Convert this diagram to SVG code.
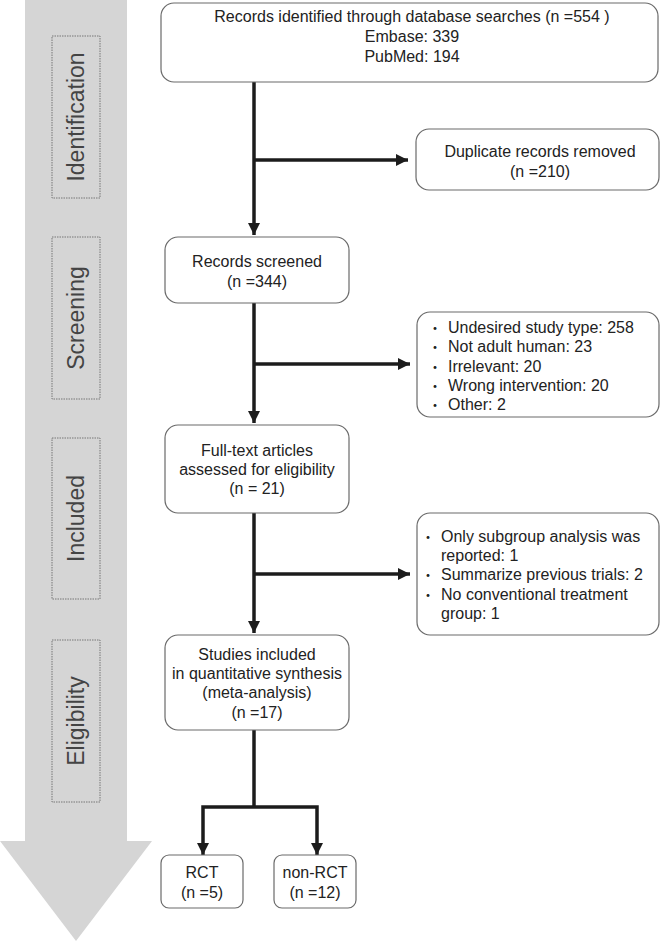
<svg xmlns="http://www.w3.org/2000/svg" width="666" height="941" viewBox="0 0 666 941">
<style>
.box{fill:#fff;stroke:#6a6a6a;stroke-width:1.2}
.lbl{fill:none;stroke:#777;stroke-width:1;stroke-dasharray:1.5 1}
.t{font-family:"Liberation Sans",Arial,sans-serif;font-size:16px;fill:#222;text-anchor:middle}
.tl{font-family:"Liberation Sans",Arial,sans-serif;font-size:16px;fill:#222}
.bu{font-family:"Noto Sans CJK JP",sans-serif;font-size:14px;fill:#222;text-anchor:middle}
.ph{font-family:"Liberation Sans",Arial,sans-serif;font-size:23px;fill:#444;text-anchor:middle}
.ln{fill:none;stroke:#1c1c1c;stroke-width:3.5}
</style>
<defs>
<marker id="ah" markerWidth="12" markerHeight="12" viewBox="0 0 12 12" refX="12" refY="6" orient="auto" markerUnits="userSpaceOnUse">
<path d="M0,0 L12,6 L0,12 Z" fill="#1c1c1c"/>
</marker>
</defs>
<g id="phase-arrow">
<path d="M25,0 H127 V841 H152 L76,941 L0,841 H25 Z" fill="#d5d5d5"/>
<rect class="lbl" x="52" y="36" width="48" height="162"/>
<text class="ph" transform="translate(84,117) rotate(-90)">Identification</text>
<rect class="lbl" x="52" y="237" width="48" height="162"/>
<text class="ph" transform="translate(84,318) rotate(-90)">Screening</text>
<rect class="lbl" x="52" y="438" width="48" height="161"/>
<text class="ph" transform="translate(84,518.5) rotate(-90)">Included</text>
<rect class="lbl" x="52" y="640" width="48" height="162"/>
<text class="ph" transform="translate(84,721) rotate(-90)">Eligibility</text>
</g>
<g id="connectors">
<path class="ln" d="M254,82 V235" marker-end="url(#ah)"/>
<path class="ln" d="M254,160 H408" marker-end="url(#ah)"/>
<path class="ln" d="M254,303 V423" marker-end="url(#ah)"/>
<path class="ln" d="M254,364 H410" marker-end="url(#ah)"/>
<path class="ln" d="M254,513 V633" marker-end="url(#ah)"/>
<path class="ln" d="M254,574 H410" marker-end="url(#ah)"/>
<path class="ln" d="M254,730 V807"/>
<path class="ln" d="M203,855 V807 H317 V855" stroke-linejoin="miter"/>
<path d="M197,843 L209,843 L203,855 Z" fill="#1c1c1c"/>
<path d="M311,843 L323,843 L317,855 Z" fill="#1c1c1c"/>
</g>
<g id="records-identified">
<rect class="box" x="161" y="3" width="497" height="79" rx="13"/>
<text class="t" x="412" y="22">Records identified through database searches (n =554 )</text>
<text class="t" x="412" y="42">Embase: 339</text>
<text class="t" x="412" y="62">PubMed: 194</text>
</g>
<g id="duplicates">
<rect class="box" x="416" y="129" width="243" height="61" rx="13"/>
<text class="t" x="540" y="157">Duplicate records removed</text>
<text class="t" x="540" y="177">(n =210)</text>
</g>
<g id="screened">
<rect class="box" x="165" y="237" width="184" height="66" rx="13"/>
<text class="t" x="257" y="267">Records screened</text>
<text class="t" x="257" y="287">(n =344)</text>
</g>
<g id="screen-excluded">
<rect class="box" x="417" y="312" width="242" height="105" rx="13"/>
<text class="bu" x="435" y="333">・</text><text class="tl" x="448" y="333">Undesired study type: 258</text>
<text class="bu" x="435" y="352">・</text><text class="tl" x="448" y="352">Not adult human: 23</text>
<text class="bu" x="435" y="372">・</text><text class="tl" x="448" y="372">Irrelevant: 20</text>
<text class="bu" x="435" y="391">・</text><text class="tl" x="448" y="391">Wrong intervention: 20</text>
<text class="bu" x="435" y="410">・</text><text class="tl" x="448" y="410">Other: 2</text>
</g>
<g id="fulltext">
<rect class="box" x="165" y="425" width="184" height="88" rx="13"/>
<text class="t" x="257" y="456">Full-text articles</text>
<text class="t" x="257" y="475">assessed for eligibility</text>
<text class="t" x="257" y="494">(n = 21)</text>
</g>
<g id="fulltext-excluded">
<rect class="box" x="417" y="513" width="242" height="122" rx="13"/>
<text class="bu" x="428" y="542">・</text><text class="tl" x="441" y="542">Only subgroup analysis was</text>
<text class="tl" x="441" y="561">reported: 1</text>
<text class="bu" x="428" y="580">・</text><text class="tl" x="441" y="580">Summarize previous trials: 2</text>
<text class="bu" x="428" y="600">・</text><text class="tl" x="441" y="600">No conventional treatment</text>
<text class="tl" x="441" y="619">group: 1</text>
</g>
<g id="studies-included">
<rect class="box" x="165" y="635" width="184" height="95" rx="13"/>
<text class="t" x="257" y="660">Studies included</text>
<text class="t" x="257" y="679">in quantitative synthesis</text>
<text class="t" x="257" y="698">(meta-analysis)</text>
<text class="t" x="257" y="718">(n =17)</text>
</g>
<g id="rct">
<rect class="box" x="161" y="855" width="82" height="53" rx="8"/>
<text class="t" x="202" y="878">RCT</text>
<text class="t" x="202" y="898">(n =5)</text>
</g>
<g id="non-rct">
<rect class="box" x="274" y="855" width="82" height="53" rx="8"/>
<text class="t" x="315" y="878">non-RCT</text>
<text class="t" x="315" y="898">(n =12)</text>
</g>
</svg>
